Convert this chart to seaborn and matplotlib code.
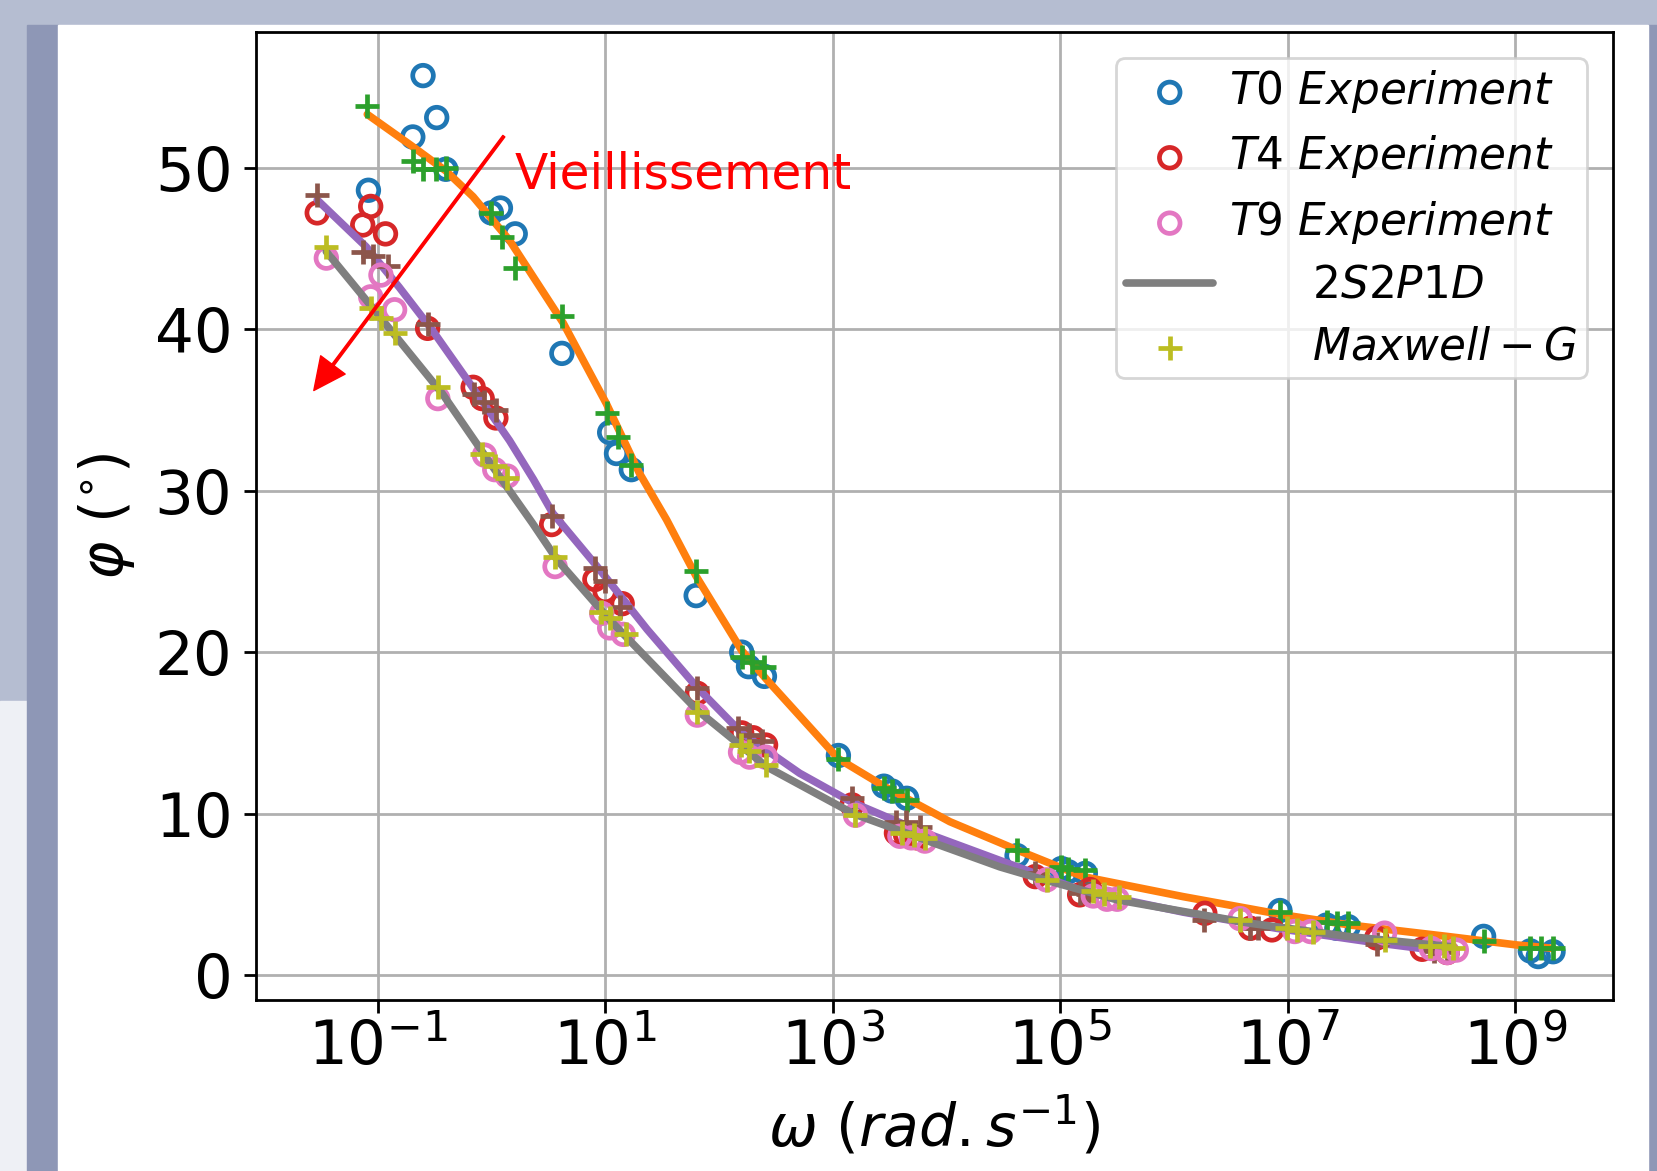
import matplotlib
matplotlib.use("Agg")
import matplotlib.pyplot as plt
from matplotlib.patches import Rectangle
from matplotlib.ticker import NullLocator
import numpy as np
import pandas as pd
import seaborn as sns

# ---- data (log10 of omega, phase angle in degrees) ----
t0_exp_logw = [-1.08, -0.69, -0.60, -0.48, -0.40, 0.00, 0.08, 0.21, 0.62, 1.04, 1.10, 1.23,
               1.80, 2.20, 2.26, 2.40, 3.05, 3.45, 3.52, 3.65, 4.62, 5.01, 5.07, 5.22,
               6.93, 7.34, 7.43, 7.53, 8.72, 9.13, 9.20, 9.33]
t0_exp_phi = [48.6, 51.9, 55.7, 53.1, 49.9, 47.2, 47.5, 45.9, 38.5, 33.6, 32.3, 31.3,
              23.5, 20.0, 19.1, 18.5, 13.6, 11.7, 11.4, 10.95, 7.4, 6.6, 6.4, 6.3,
              4.0, 3.1, 2.9, 3.0, 2.4, 1.5, 1.15, 1.45]

t0_mg_logw = [-1.09, -0.69, -0.60, -0.49, -0.40, 0.00, 0.09, 0.21, 0.62, 1.02, 1.11, 1.23,
              1.80, 2.20, 2.29, 2.40, 3.05, 3.45, 3.52, 3.65, 4.62, 5.01, 5.07, 5.22,
              6.93, 7.34, 7.43, 7.53, 8.72, 9.13, 9.22, 9.33]
t0_mg_phi = [53.8, 50.4, 49.9, 49.9, 50.0, 47.2, 45.7, 43.8, 40.8, 34.8, 33.3, 31.6,
             25.0, 19.7, 19.4, 19.1, 13.4, 11.6, 11.4, 10.85, 7.75, 6.7, 6.6, 6.5,
             3.9, 3.3, 3.2, 3.2, 2.1, 1.7, 1.7, 1.7]

t0_fit_logw = [-1.09, -0.69, -0.40, -0.16, 0.16, 0.63, 1.01, 1.30, 1.54, 1.80, 2.20, 2.42,
               3.05, 3.45, 4.03, 4.47, 4.62, 5.20, 6.08, 6.96, 7.55, 8.42, 9.01, 9.33]
t0_fit_phi = [53.3, 51.3, 49.8, 48.2, 45.5, 40.4, 35.4, 31.1, 28.2, 24.7, 20.1, 18.3,
              13.4, 11.7, 9.5, 8.2, 7.75, 6.1, 4.86, 3.73, 3.1, 2.38, 1.87, 1.66]

t4_exp_logw = [-1.53, -1.13, -1.06, -0.93, -0.56, -0.16, -0.08, 0.04, 0.53, 0.91, 1.00, 1.15,
               1.81, 2.20, 2.30, 2.41, 3.17, 3.56, 3.64, 3.74, 4.78, 5.17, 5.26,
               6.27, 6.67, 6.86, 7.78, 8.18, 8.40]
t4_exp_phi = [47.2, 46.45, 47.6, 45.9, 40.05, 36.4, 35.7, 34.5, 27.9, 24.5, 23.75, 23.0,
              17.45, 15.0, 14.7, 14.25, 10.54, 8.8, 8.7, 8.5, 6.1, 4.97, 5.3,
              3.83, 2.9, 2.8, 2.3, 1.6, 1.4]

t4_mg_logw = [-1.53, -1.13, -1.04, -0.91, -0.56, -0.15, -0.06, 0.04, 0.53, 0.91, 1.00, 1.13,
              1.81, 2.17, 2.26, 2.38, 3.17, 3.56, 3.64, 3.77, 4.78, 5.17, 5.24,
              6.26, 6.67, 6.74, 7.78, 8.28, 8.40]
t4_mg_phi = [48.3, 44.8, 44.5, 43.9, 40.3, 36.0, 35.5, 35.0, 28.45, 25.2, 24.4, 22.8,
             17.8, 15.3, 14.9, 14.5, 10.95, 9.5, 9.5, 9.2, 6.3, 5.1, 5.0,
             3.4, 2.9, 2.9, 1.9, 1.5, 1.45]

t4_fit_logw = [-1.53, -1.10, -0.81, -0.52, -0.19, 0.16, 0.37, 0.54, 0.93, 1.37, 1.81, 2.20,
               2.71, 3.17, 3.74, 4.47, 5.20, 6.08, 6.90, 7.78, 8.40]
t4_fit_phi = [48.0, 45.1, 42.6, 39.95, 36.65, 33.1, 30.7, 28.6, 25.3, 21.4, 17.8, 15.0,
              12.5, 10.7, 9.0, 7.1, 5.2, 3.9, 2.9, 2.0, 1.45]

t9_exp_logw = [-1.45, -1.06, -0.97, -0.85, -0.47, -0.06, 0.03, 0.14, 0.56, 0.97, 1.04, 1.16,
               1.81, 2.19, 2.27, 2.41, 3.20, 3.59, 3.69, 3.81, 4.88, 5.29, 5.41, 5.50,
               6.58, 7.06, 7.20, 7.85, 8.26, 8.40, 8.48]
t9_exp_phi = [44.4, 42.0, 43.35, 41.2, 35.7, 32.2, 31.3, 30.9, 25.3, 22.4, 21.5, 21.1,
              16.1, 13.8, 13.5, 13.5, 9.9, 8.6, 8.5, 8.3, 5.9, 4.9, 4.7, 4.7,
              3.5, 2.7, 2.7, 2.6, 1.65, 1.4, 1.55]

t9_mg_logw = [-1.45, -1.06, -0.97, -0.85, -0.47, -0.08, 0.03, 0.14, 0.56, 0.96, 1.04, 1.18,
              1.81, 2.19, 2.26, 2.41, 3.20, 3.61, 3.71, 3.81, 4.88, 5.29, 5.38, 5.52,
              6.58, 6.99, 7.08, 7.22, 7.85, 8.25, 8.37, 8.45]
t9_mg_phi = [45.1, 41.3, 40.7, 39.75, 36.4, 32.3, 31.5, 30.8, 25.9, 22.5, 22.1, 21.1,
             16.3, 14.25, 13.85, 13.0, 9.9, 8.8, 8.7, 8.5, 5.9, 5.2, 5.0, 4.85,
             3.4, 2.9, 2.8, 2.7, 2.2, 1.8, 1.8, 1.7]

t9_fit_logw = [-1.45, -1.10, -0.81, -0.43, -0.02, 0.36, 0.58, 1.04, 1.81, 2.42, 3.18, 3.88,
               4.47, 4.76, 5.50, 6.67, 7.55, 8.45]
t9_fit_phi = [44.8, 41.8, 39.3, 36.0, 31.8, 28.0, 25.7, 22.0, 16.4, 12.9, 10.0, 8.2,
              6.7, 6.1, 4.66, 3.21, 2.38, 1.75]

# ---- style ----
sns.set_theme(style="ticks", rc={
    "axes.edgecolor": "black",
    "axes.linewidth": 2.0,
    "axes.labelcolor": "black",
    "text.color": "black",
    "xtick.color": "black",
    "ytick.color": "black",
})
plt.rcParams["font.family"] = ["DejaVu Sans"]
plt.rcParams["mathtext.fontset"] = "dejavusans"

fig = plt.figure(figsize=(16.58, 11.71), dpi=100)

# screenshot-like background around the white figure area
fig.patch.set_facecolor("#b5bdd1")
W, H = 1658.0, 1171.0
fig.patches.extend([
    Rectangle((0, 0), 27 / W, 470 / H, transform=fig.transFigure, color="#eef0f5", zorder=-3),
    Rectangle((27 / W, 0), 31 / W, 1146 / H, transform=fig.transFigure, color="#8e97b6", zorder=-3),
    Rectangle((1648 / W, 0), 10 / W, 1146 / H, transform=fig.transFigure, color="#8e97b6", zorder=-3),
    Rectangle((58 / W, 0), 1590 / W, 1146 / H, transform=fig.transFigure, color="white", zorder=-2),
])

ax = fig.add_axes([256 / W, 171 / H, 1357 / W, 968 / H])
ax.set_facecolor("white")

pal = sns.color_palette("tab10")
circ = dict(marker="o", s=220, facecolor="none", linewidth=3.4, zorder=2, legend=False, ax=ax)
plus = dict(marker="+", s=300, linewidth=3.4, zorder=2, legend=False, ax=ax)
line = dict(linewidth=5.5, zorder=2, estimator=None, sort=False, ax=ax)

groups = [
    (t0_exp_logw, t0_exp_phi, t0_fit_logw, t0_fit_phi, t0_mg_logw, t0_mg_phi, "T0", False),
    (t4_exp_logw, t4_exp_phi, t4_fit_logw, t4_fit_phi, t4_mg_logw, t4_mg_phi, "T4", False),
    (t9_exp_logw, t9_exp_phi, t9_fit_logw, t9_fit_phi, t9_mg_logw, t9_mg_phi, "T9", True),
]

for i, (ew, ep, fw, fp, mw, mp, name, last) in enumerate(groups):
    c_exp, c_fit, c_mg = pal[3 * i], pal[3 * i + 1], pal[3 * i + 2]
    sns.scatterplot(x=np.power(10.0, ew), y=ep, edgecolor=c_exp,
                    label=r"$%s\ Experiment$" % name, **circ)
    sns.lineplot(x=np.power(10.0, fw), y=fp, color=c_fit,
                 label="      $2S2P1D$" if last else None, **line)
    sns.scatterplot(x=np.power(10.0, mw), y=mp, color=c_mg,
                    label="      $Maxwell-G$" if last else None, **plus)

ax.set_xscale("log")
ax.set_xlim(10 ** -2.068, 10 ** 9.857)
ax.set_ylim(-1.54, 58.4)
ax.set_xticks([1e-1, 1e1, 1e3, 1e5, 1e7, 1e9])
ax.set_yticks([0, 10, 20, 30, 40, 50])
ax.xaxis.set_minor_locator(NullLocator())
ax.grid(True, color="#b0b0b0", linewidth=2.0)
ax.tick_params(axis="both", labelsize=44, length=9, width=2, direction="out")
ax.tick_params(axis="x", pad=4)
ax.tick_params(axis="y", pad=8)

ax.set_xlabel(r"$\omega\ (rad.s^{-1})$", fontsize=42)
ax.set_ylabel(r"$\varphi\ (^{\circ})$", fontsize=42)
ax.xaxis.set_label_coords(0.5, -0.098)
ax.yaxis.set_label_coords(-0.088, 0.5)

# ageing arrow
ax.annotate("", xy=(10 ** -1.56, 36.2), xytext=(10 ** 0.11, 51.95),
            arrowprops=dict(color="red", width=1.8, headwidth=22, headlength=23, shrink=0))
ax.text(10 ** 0.208, 49.6, "Vieillissement", color="red", fontsize=35, ha="left", va="center")

leg = ax.legend(loc="upper right", fontsize=31.5, framealpha=0.8, labelspacing=0.42,
                handletextpad=0.35, borderpad=0.22, borderaxespad=0.6)
leg.get_frame().set_linewidth(2.0)

fig.savefig("out.png", dpi=100, facecolor=fig.get_facecolor())
